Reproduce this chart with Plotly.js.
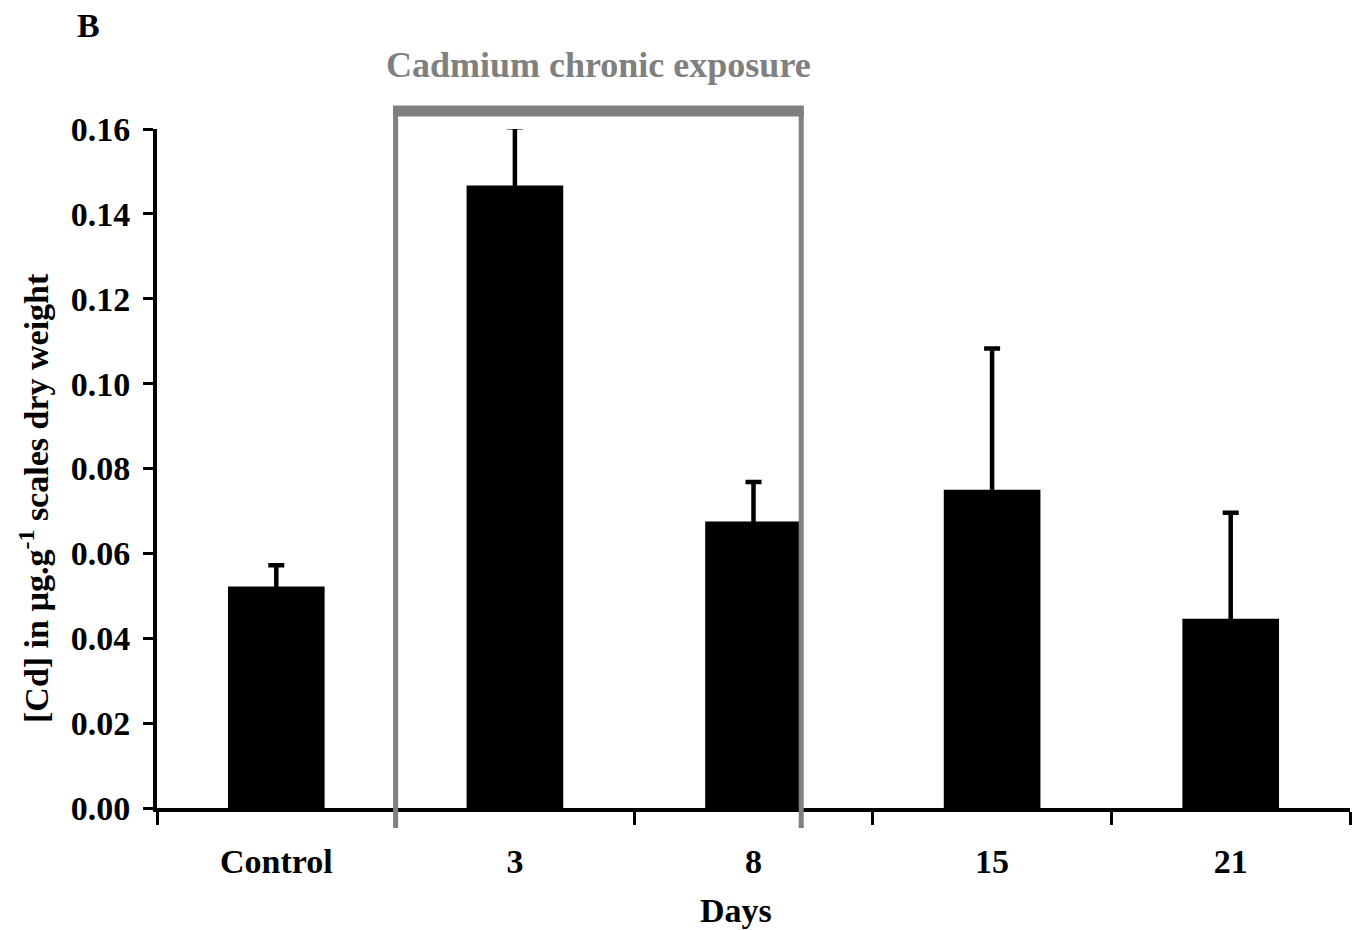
<!DOCTYPE html>
<html>
<head>
<meta charset="utf-8">
<script src="https://cdn.plot.ly/plotly-3.0.1.min.js"></script>
<style>html,body{margin:0;padding:0;background:#fff;}#chart{width:1353px;height:930px;}</style>
</head>
<body>
<div id="chart"></div>
<script>
// Data
const categories = ['Control', '3', '8', '15', '21'];
const cdMeans = [0.0522, 0.1467, 0.0675, 0.0750, 0.0446];
const cdErrPlus = [0.0050, 0.0137, 0.0093, 0.0333, 0.0250];
const yTickVals = [0, 0.02, 0.04, 0.06, 0.08, 0.10, 0.12, 0.14, 0.16];
const panelLabel = 'B';
const bracketLabel = 'Cadmium chronic exposure';
const xTitle = 'Days';
const yTitle = '[Cd] in µg.g<sup>-1</sup> scales dry weight';

const FONT = 'Liberation Serif, Times New Roman, serif';
const GREY = '#808080';

// lower whisker kept inside the black bar (invisible), so only the upper bar shows
const hiddenMinus = cdErrPlus.map(() => 0.003);

const trace = {
  type: 'bar',
  x: categories,
  y: cdMeans,
  width: 0.405,
  marker: {color: '#000000', line: {width: 0}},
  cliponaxis: false,
  error_y: {
    type: 'data',
    symmetric: false,
    array: cdErrPlus,
    arrayminus: hiddenMinus,
    color: '#000000',
    thickness: 4.5,
    width: 8
  },
  hoverinfo: 'x+y'
};

// bracket extent in category units (from boundary after Control to right edge of the "8" bar)
const brL = 0.5, brR = 2.2;
const brTop = 1.0265, brBottom = -0.0295;

const layout = {
  width: 1353,
  height: 930,
  margin: {l: 157, r: 3, t: 129, b: 122},
  paper_bgcolor: '#ffffff',
  plot_bgcolor: '#ffffff',
  showlegend: false,
  font: {family: FONT, size: 34, color: '#000000', weight: 'bold'},
  xaxis: {
    type: 'category',
    categoryorder: 'array',
    categoryarray: categories,
    range: [-0.5, 4.5],
    showline: true,
    linecolor: '#000000',
    linewidth: 4,
    ticks: 'outside',
    tickson: 'boundaries',
    ticklen: 13,
    tickwidth: 3,
    tickcolor: '#000000',
    ticklabelstandoff: 20,
    showgrid: false,
    zeroline: false,
    tickfont: {family: FONT, size: 34, color: '#000000', weight: 'bold'}
  },
  yaxis: {
    range: [0, 0.16],
    tickvals: yTickVals,
    tickformat: '.2f',
    showline: true,
    linecolor: '#000000',
    linewidth: 4,
    ticks: 'outside',
    ticklen: 10,
    tickwidth: 3,
    tickcolor: '#000000',
    ticklabelstandoff: 6,
    showgrid: false,
    zeroline: false,
    tickfont: {family: FONT, size: 34, color: '#000000', weight: 'bold'}
  },
  shapes: [
    {type: 'line', xref: 'x', yref: 'paper', x0: brL, x1: brL, y0: brBottom, y1: brTop,
     line: {color: GREY, width: 5}, layer: 'above'},
    {type: 'line', xref: 'x', yref: 'paper', x0: brR, x1: brR, y0: brBottom, y1: brTop,
     line: {color: GREY, width: 5}, layer: 'above'},
    {type: 'line', xref: 'x', yref: 'paper', x0: brL - 0.011, x1: brR + 0.011, y0: brTop, y1: brTop,
     line: {color: GREY, width: 11}, layer: 'above'}
  ],
  annotations: [
    {text: panelLabel, xref: 'paper', yref: 'paper', x: (88 - 157) / 1193, y: (808 - 25) / 679,
     xanchor: 'center', yanchor: 'middle', showarrow: false,
     font: {family: FONT, size: 34, color: '#000000', weight: 'bold'}},
    {text: bracketLabel, xref: 'paper', yref: 'paper', x: (598 - 157) / 1193, y: (808 - 65) / 679,
     xanchor: 'center', yanchor: 'middle', showarrow: false,
     font: {family: FONT, size: 36, color: GREY, weight: 'bold'}},
    {text: xTitle, xref: 'paper', yref: 'paper', x: (736 - 157) / 1193, y: (808 - 911) / 679,
     xanchor: 'center', yanchor: 'middle', showarrow: false,
     font: {family: FONT, size: 34, color: '#000000', weight: 'bold'}},
    {text: yTitle, xref: 'paper', yref: 'paper', x: (34 - 157) / 1193, y: (808 - 498) / 679,
     xanchor: 'center', yanchor: 'middle', showarrow: false, textangle: -90,
     font: {family: FONT, size: 34, color: '#000000', weight: 'bold'}}
  ]
};

Plotly.newPlot('chart', [trace], layout, {displayModeBar: false, staticPlot: true});
</script>
</body>
</html>
